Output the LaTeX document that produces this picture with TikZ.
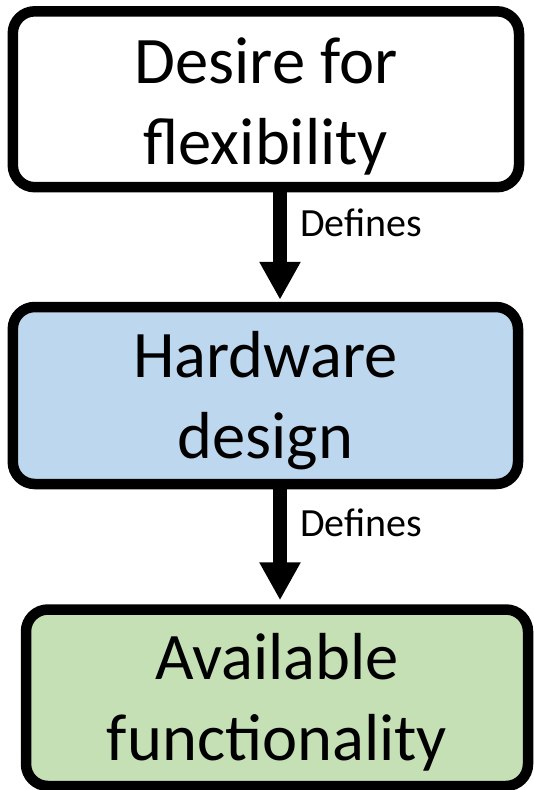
\documentclass[tikz,border=0pt]{standalone}
\usepackage{fontspec}
\setmainfont{Carlito}
\usetikzlibrary{arrows.meta,calc}

\definecolor{hwblue}{HTML}{BDD7EE}
\definecolor{fngreen}{HTML}{C5E0B4}

\begin{document}
\begin{tikzpicture}[x=1pt,y=-1pt,
  stagebox/.style={draw=black, line width=10.5pt, rounded corners=22pt,
    rectangle, inner sep=0pt},
  boxtext/.style={anchor=base, inner sep=0pt, font=\fontsize{66.5}{80}\selectfont},
  linktext/.style={anchor=base west, inner sep=0pt, font=\fontsize{40}{48}\selectfont},
  link/.style={line width=14.5pt, -{Triangle[width=38.7pt,length=38pt]}}]

  \useasboundingbox (0,0) rectangle (534,790);

  % the three stages
  \node[stagebox, fill=white,   minimum width=506.2pt, minimum height=175.9pt]
    (desire) at (265.9,99.25) {};
  \node[stagebox, fill=hwblue,  minimum width=505.2pt, minimum height=177pt]
    (hardware) at (265.4,395.5) {};
  \node[stagebox, fill=fngreen, minimum width=502pt,   minimum height=176.5pt]
    (function) at (277,697.75) {};

  % stage texts
  \node[boxtext] (desireA)   at (265.9,83.3)  {Desire for};
  \node[boxtext] (desireB)   at (265.9,164.8) {flexibility};
  \node[boxtext] (hardwareA) at (265.4,377)   {Hardware};
  \node[boxtext] (hardwareB) at (265.4,458)   {design};
  \node[boxtext] (functionA) at (277,679)     {Available};
  \node[boxtext] (functionB) at (277,760)     {functionality};

  % vertical axis of the connectors
  \coordinate (axis) at (280,0);

  \draw[link] (desire.south -| axis) -- ([yshift=2pt]hardware.north -| axis);
  \draw[link] (hardware.south -| axis) -- ([yshift=4pt]function.north -| axis);

  \node[linktext] (defA) at (300,236) {Defines};
  \node[linktext] (defB) at (300,536) {Defines};
\end{tikzpicture}
\end{document}
